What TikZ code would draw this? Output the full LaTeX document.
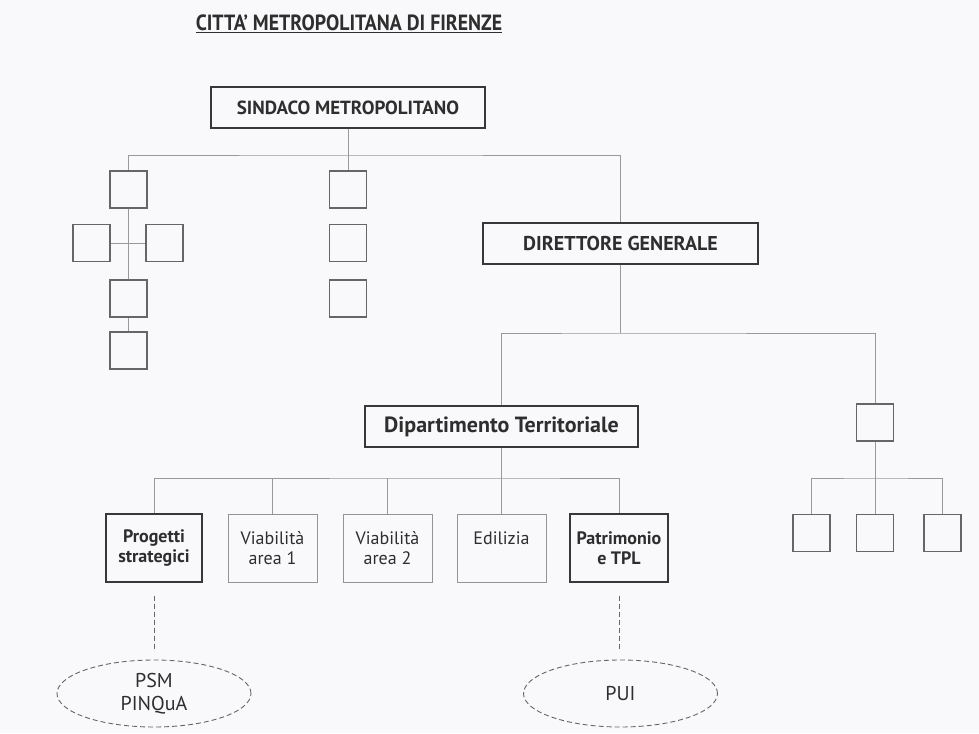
\documentclass[tikz,border=0pt]{standalone}
\usepackage{fontspec}
\usepackage{graphicx}
\setmainfont{PT Sans}
\usetikzlibrary{shapes.geometric}
\definecolor{bgcol}{RGB}{249,249,252}
\colorlet{boxcol}{black!78}
\colorlet{smallcol}{black!60}
\colorlet{linecol}{black!40}
\colorlet{txtcol}{black!82}
\tikzset{
  headbox/.style={draw=boxcol, line width=1.4pt, text=txtcol, minimum height=41pt,
    font=\bfseries\fontsize{19}{22}\selectfont},
  officebox/.style={draw=smallcol!70, line width=1pt, text=txtcol, minimum height=68pt,
    align=center, font=\fontsize{18}{20}\selectfont},
  keybox/.style={officebox, draw=boxcol, line width=1.4pt, font=\bfseries\fontsize{18}{20}\selectfont},
  emptybox/.style={draw=smallcol, line width=1.1pt, minimum size=37pt, inner sep=0pt},
  planoval/.style={ellipse, draw=smallcol, dash pattern=on 5pt off 3pt, line width=0.9pt,
    minimum width=194pt, minimum height=67pt, inner sep=0pt, align=center, text=txtcol,
    font=\fontsize{20}{23}\selectfont},
  conn/.style={draw=linecol, line width=0.8pt},
  dashline/.style={draw=smallcol, dash pattern=on 5pt off 3pt, line width=0.9pt}
}

\begin{document}
\begin{tikzpicture}[x=1pt,y=-1pt]
  \fill[bgcol] (0,0) rectangle (979,733);
  \useasboundingbox (0,0) rectangle (979,733);

  % title
  \node[text=txtcol, font=\bfseries\fontsize{22}{24}\selectfont] (title) at (349,24)
    {\scalebox{0.9}[1]{\underline{CITTA’ METROPOLITANA DI FIRENZE}}};

  % top of the tree
  \node[headbox, minimum width=274pt] (sindaco) at (348,107.5) {SINDACO METROPOLITANO};
  \node[headbox, minimum width=275pt, font=\bfseries\fontsize{20}{22}\selectfont] (direttore)
    at (620.5,243.5) {DIRETTORE GENERALE};
  \node[headbox, minimum width=273pt, font=\bfseries\fontsize{22}{24}\selectfont] (dip)
    at (501.5,426.5) {Dipartimento Territoriale};

  % left group
  \node[emptybox] (l1) at (128.5,189.5) {};
  \node[emptybox] (l2) at (91.5,243) {};
  \node[emptybox] (l3) at (164.5,243) {};
  \node[emptybox] (l4) at (128.5,298.5) {};
  \node[emptybox] (l5) at (128.5,350.5) {};
  % middle column
  \node[emptybox] (m1) at (348,189.5) {};
  \node[emptybox] (m2) at (348,243) {};
  \node[emptybox] (m3) at (348,298.5) {};
  % right group
  \node[emptybox] (r0) at (875,422.5) {};
  \node[emptybox] (r1) at (811.5,533) {};
  \node[emptybox] (r2) at (875,533) {};
  \node[emptybox] (r3) at (942.5,533) {};

  % offices
  \node[keybox, minimum width=96pt] (prog) at (154,548) {Progetti\\strategici};
  \node[officebox, minimum width=89pt] (via1) at (272.5,548) {Viabilità\\area 1};
  \node[officebox, minimum width=89pt] (via2) at (387.5,548) {Viabilità\\area 2};
  \node[officebox, minimum width=89pt] (edil) at (501.5,548) {Edilizia\\\phantom{x}};
  \node[keybox, minimum width=98pt] (patr) at (619,548) {Patrimonio\\e TPL};

  % plans
  \node[planoval] (psm) at (154,693.5) {PSM\\PINQuA};
  \node[planoval] (pui) at (620.5,693.5) {PUI};

  % junctions
  \coordinate (j1) at (348,155);
  \coordinate (j2) at (620.5,333);
  \coordinate (j3) at (501.5,478);
  \coordinate (j4) at (875,478);

  % sindaco to the branches
  \draw[conn] (sindaco.south) -- (m1.north);
  \draw[conn] (l1.north) |- (j1) -| (direttore.north);
  % left cross
  \draw[conn] (l1.south) -- (l4.north);
  \draw[conn] (l2.east) -- (l3.west);
  \draw[conn] (l4.south) -- (l5.north);
  % direttore to dipartimento and right group
  \draw[conn] (direttore.south) -- (j2);
  \draw[conn] (dip.north) |- (j2) -| (r0.north);
  \draw[conn] (r0.south) -- (r2.north);
  \draw[conn] (r1.north) |- (j4) -| (r3.north);
  % dipartimento to offices
  \draw[conn] (dip.south) -- (edil.north);
  \draw[conn] (prog.north) |- (j3) -| (patr.north);
  \draw[conn] (via1.north) -- (via1.north |- j3);
  \draw[conn] (via2.north) -- (via2.north |- j3);
  % offices to plans
  \draw[dashline, shorten <=13pt, shorten >=10pt] (prog.south) -- (prog.south |- psm.north);
  \draw[dashline, shorten <=13pt, shorten >=10pt] (patr.south) -- (patr.south |- pui.north);
\end{tikzpicture}
\end{document}
